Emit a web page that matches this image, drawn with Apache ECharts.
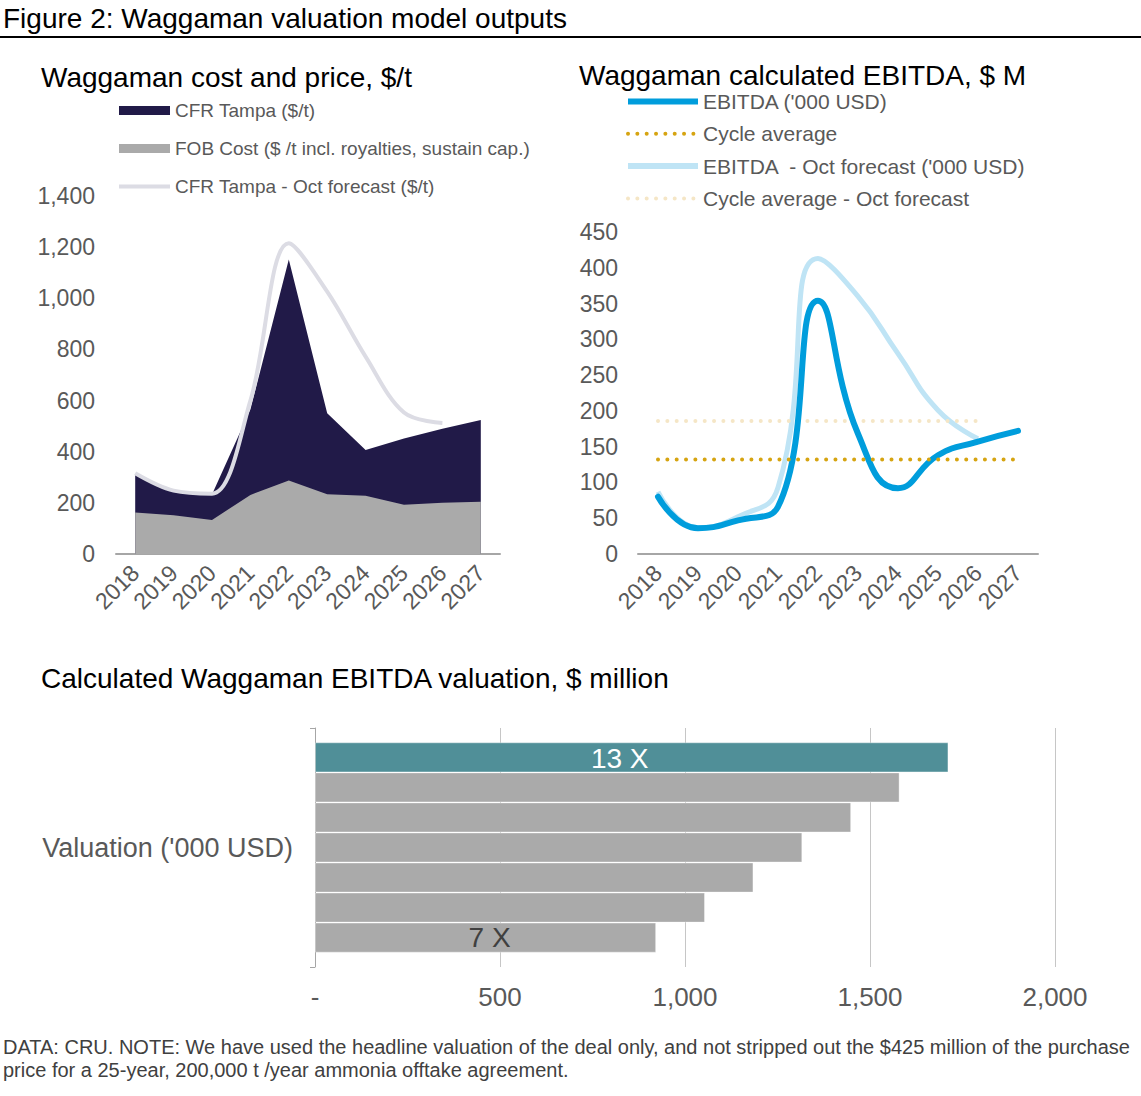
<!DOCTYPE html>
<html>

<head>
    <meta charset="utf-8" />
    <script src="https://cdn.jsdelivr.net/npm/echarts@6/dist/echarts.min.js"></script>
    <style>
        html, body { margin: 0; padding: 0; background: #fff; }
        #main { width: 1141px; height: 1096px; }
    </style>
</head>

<body>
    <div id="main"></div>
    <script type="text/javascript">
        // 数据
        var years = ['2018', '2019', '2020', '2021', '2022', '2023', '2024', '2025', '2026', '2027'];
        var cfrTampa = [309, 245, 233, 565, 1152, 550, 407, 452, 490, 524];
        var fobCost = [162, 152, 133, 231, 287, 234, 228, 193, 200, 204];
        var cfrTampaOct = [316, 248, 236, 600, 1215, 1026, 772, 553, 512];

        var ebitda = [80, 36, 47, 66, 354, 168, 92, 138, 157, 172];
        var cycleAvg = [132, 132, 132, 132, 132, 132, 132, 132, 132, 132];
        var ebitdaOct = [87, 37, 52, 93, 413, 360, 280, 201, 161];
        var cycleAvgOct = [186, 186, 186, 186, 186, 186, 186, 186, 186];

        var valuationCategory = ["Valuation ('000 USD)"];
        var multiples = ['13 X', '12 X', '11 X', '10 X', '9 X', '8 X', '7 X'];
        var valuations = [1712, 1580, 1449, 1317, 1185, 1054, 922];
        var valuationTicks = ['-', '500', '1,000', '1,500', '2,000'];

        var gray = '#595959';
        var axisGray = '#a6a6a6';

        var myChart = echarts.init(document.getElementById('main'), null, { renderer: 'svg' });

        // 估值柱
        var barSeries = valuations.map(function (v, i) {
            var s = {
                name: multiples[i],
                type: 'bar',
                xAxisIndex: 2,
                yAxisIndex: 2,
                barGap: '0%',
                barCategoryGap: '12%',
                data: [v],
                itemStyle: {
                    color: i === 0 ? '#508f98' : '#aaaaaa',
                    borderColor: 'rgba(255,255,255,0.35)',
                    borderWidth: 1
                },
                label: { show: false }
            };
            if (i === 0) {
                s.label = { show: true, position: 'inside', formatter: multiples[i],
                    fontSize: 28, color: '#ffffff', offset: [-12, 1] };
            } else if (i === valuations.length - 1) {
                s.label = { show: true, position: 'inside', formatter: multiples[i],
                    fontSize: 28, color: '#404040', offset: [4, 0] };
            }
            return s;
        });

        var catLabel = { rotate: 45, interval: 0, fontSize: 23, color: gray, margin: 15 };

        var option = {
            animation: false,
            textStyle: { fontFamily: 'Liberation Sans, Arial, sans-serif' },
            title: [
                { text: 'Figure 2: Waggaman valuation model outputs', left: 3, top: 4, padding: 0,
                  textStyle: { fontSize: 28, fontWeight: 'normal', color: '#000' } },
                { text: 'Waggaman cost and price, $/t', left: 41, top: 63, padding: 0,
                  textStyle: { fontSize: 28, fontWeight: 'normal', color: '#000' } },
                { text: 'Waggaman calculated EBITDA, $ M', left: 579, top: 61, padding: 0,
                  textStyle: { fontSize: 28, fontWeight: 'normal', color: '#000' } },
                { text: 'Calculated Waggaman EBITDA valuation, $ million', left: 41, top: 664, padding: 0,
                  textStyle: { fontSize: 28, fontWeight: 'normal', color: '#000' } }
            ],
            legend: [
                {
                    orient: 'vertical', left: 117, top: 101, padding: 0,
                    itemWidth: 51, itemHeight: 9, itemGap: 19,
                    selectedMode: false,
                    textStyle: { fontSize: 19, color: gray },
                    data: [
                        { name: 'CFR Tampa ($/t)', icon: 'rect' },
                        { name: 'FOB Cost ($ /t incl. royalties, sustain cap.)', icon: 'rect' },
                        { name: 'CFR Tampa - Oct forecast ($/t)', lineStyle: { width: 4 }, itemStyle: { opacity: 0 } }
                    ]
                },
                {
                    orient: 'vertical', left: 625, top: 91, padding: 0,
                    itemWidth: 70, itemHeight: 8, itemGap: 11.3,
                    selectedMode: false,
                    textStyle: { fontSize: 21, color: gray },
                    data: [
                        { name: "EBITDA ('000 USD)", lineStyle: { width: 6, cap: 'butt' }, itemStyle: { opacity: 0 } },
                        { name: 'Cycle average', lineStyle: { width: 4, type: [0.01, 9.33], cap: 'round' }, itemStyle: { opacity: 0 } },
                        { name: "EBITDA  - Oct forecast ('000 USD)", lineStyle: { width: 6, cap: 'butt' }, itemStyle: { opacity: 0 } },
                        { name: 'Cycle average - Oct forecast', lineStyle: { width: 4, type: [0.01, 9.33], cap: 'round' }, itemStyle: { opacity: 0 } }
                    ]
                }
            ],
            grid: [
                { left: 116, top: 196, width: 384, height: 358 },
                { left: 638, top: 232, width: 400, height: 322 },
                { left: 315, top: 728, width: 740, height: 239 }
            ],
            xAxis: [
                {
                    gridIndex: 0, type: 'category', data: years, boundaryGap: true,
                    axisLine: { lineStyle: { color: axisGray, width: 2 } },
                    axisTick: { show: false },
                    axisLabel: catLabel
                },
                {
                    gridIndex: 1, type: 'category', data: years, boundaryGap: true,
                    axisLine: { lineStyle: { color: axisGray, width: 2 } },
                    axisTick: { show: false },
                    axisLabel: catLabel
                },
                {
                    gridIndex: 2, type: 'value', min: 0, max: 2000, interval: 500,
                    axisLine: { show: false },
                    axisTick: { show: false },
                    splitLine: { show: true, lineStyle: { color: '#c6c6c6', width: 1 } },
                    axisLabel: {
                        fontSize: 26, color: gray, margin: 17,
                        formatter: function (v) { return valuationTicks[v / 500]; }
                    }
                }
            ],
            yAxis: [
                {
                    gridIndex: 0, type: 'value', min: 0, max: 1400, interval: 200,
                    axisLine: { show: false }, axisTick: { show: false }, splitLine: { show: false },
                    axisLabel: { fontSize: 23, color: gray, margin: 21 }
                },
                {
                    gridIndex: 1, type: 'value', min: 0, max: 450, interval: 50,
                    axisLine: { show: false }, axisTick: { show: false }, splitLine: { show: false },
                    axisLabel: { fontSize: 23, color: gray, margin: 20 }
                },
                {
                    gridIndex: 2, type: 'category', data: valuationCategory,
                    axisLine: { show: true, lineStyle: { color: axisGray, width: 1 } },
                    axisTick: { show: true, length: 5, lineStyle: { color: axisGray } },
                    axisLabel: { fontSize: 27, color: gray, margin: 22 }
                }
            ],
            series: [
                {
                    name: 'CFR Tampa ($/t)', type: 'line', xAxisIndex: 0, yAxisIndex: 0,
                    data: cfrTampa, symbol: 'none',
                    itemStyle: { color: '#211a48' },
                    lineStyle: { width: 0 },
                    areaStyle: { color: '#211a48', opacity: 1 }
                },
                {
                    name: 'FOB Cost ($ /t incl. royalties, sustain cap.)', type: 'line', xAxisIndex: 0, yAxisIndex: 0,
                    data: fobCost, symbol: 'none',
                    itemStyle: { color: '#aaaaaa' },
                    lineStyle: { width: 0 },
                    areaStyle: { color: '#aaaaaa', opacity: 1 }
                },
                {
                    name: 'CFR Tampa - Oct forecast ($/t)', type: 'line', xAxisIndex: 0, yAxisIndex: 0,
                    data: cfrTampaOct, symbol: 'none', smooth: 0.35,
                    itemStyle: { color: '#dcdce4' },
                    lineStyle: { width: 4, color: '#dcdce4' }
                },
                {
                    name: "EBITDA  - Oct forecast ('000 USD)", type: 'line', xAxisIndex: 1, yAxisIndex: 1,
                    data: ebitdaOct, symbol: 'none', smooth: true, z: 2,
                    itemStyle: { color: '#bfe4f5' },
                    lineStyle: { width: 5, color: '#bfe4f5' }
                },
                {
                    name: 'Cycle average - Oct forecast', type: 'line', xAxisIndex: 1, yAxisIndex: 1,
                    data: cycleAvgOct, symbol: 'none', z: 2,
                    itemStyle: { color: '#f5e6c6' },
                    lineStyle: { width: 4, color: '#f5e6c6', type: [0.01, 9.33], cap: 'round' }
                },
                {
                    name: "EBITDA ('000 USD)", type: 'line', xAxisIndex: 1, yAxisIndex: 1,
                    data: ebitda, symbol: 'none', smooth: true, z: 3,
                    itemStyle: { color: '#009ddc' },
                    lineStyle: { width: 6, color: '#009ddc', cap: 'round' }
                },
                {
                    name: 'Cycle average', type: 'line', xAxisIndex: 1, yAxisIndex: 1,
                    data: cycleAvg, symbol: 'none', z: 4,
                    itemStyle: { color: '#d6a411' },
                    lineStyle: { width: 4, color: '#d6a411', type: [0.01, 9.33], cap: 'round' }
                }
            ].concat(barSeries),
            graphic: [
                {
                    type: 'line', shape: { x1: 0, y1: 37, x2: 1141, y2: 37 },
                    style: { stroke: '#000', lineWidth: 2 }
                },
                {
                    type: 'text', left: 3, top: 1035,
                    style: {
                        text: 'DATA: CRU. NOTE: We have used the headline valuation of the deal only, and not stripped out the $425 million of the purchase\nprice for a 25-year, 200,000 t /year ammonia offtake agreement.',
                        fontSize: 20, lineHeight: 23, fill: '#404040',
                        fontFamily: 'Liberation Sans, Arial, sans-serif'
                    }
                }
            ]
        };

        myChart.setOption(option);
    </script>
</body>

</html>
